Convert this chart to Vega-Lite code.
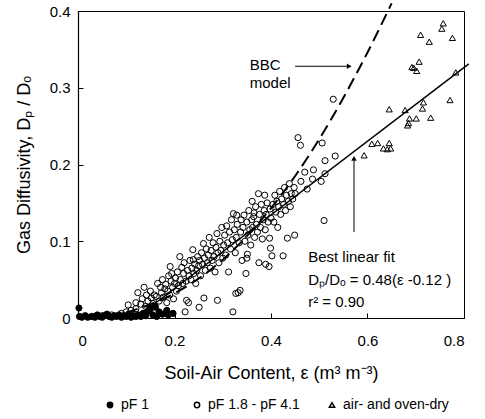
{
  "$schema": "https://vega.github.io/schema/vega-lite/v6.json",
  "autosize": "none",
  "width": 386,
  "height": 307,
  "padding": {"left": 78, "top": 11, "right": 21, "bottom": 101},
  "background": "white",
  "config": {
    "view": {"stroke": "black", "strokeWidth": 1},
    "font": "Liberation Sans",
    "axis": {"grid": false, "domainColor": "black", "tickColor": "black", "labelColor": "black", "titleColor": "black", "labelFont": "Liberation Sans", "titleFont": "Liberation Sans", "labelFontSize": 15, "titleFontSize": 18, "titleFontWeight": "normal", "tickSize": -5, "domainWidth": 1.2},
    "legend": {"labelFont": "Liberation Sans", "labelFontSize": 14, "labelColor": "black"}
  },
  "datasets": {
    "pts": [
      {"eps":0.002,"dp":0.013,"g":"pF 1"},{"eps":0.003,"dp":0.002,"g":"pF 1"},{"eps":0.008,"dp":0.001,"g":"pF 1"},{"eps":0.015,"dp":0.003,"g":"pF 1"},{"eps":0.02,"dp":0.001,"g":"pF 1"},{"eps":0.028,"dp":0.002,"g":"pF 1"},{"eps":0.035,"dp":0.001,"g":"pF 1"},{"eps":0.04,"dp":0.004,"g":"pF 1"},{"eps":0.045,"dp":0.002,"g":"pF 1"},{"eps":0.05,"dp":0.001,"g":"pF 1"},{"eps":0.055,"dp":0.003,"g":"pF 1"},{"eps":0.06,"dp":0.005,"g":"pF 1"},{"eps":0.065,"dp":0.002,"g":"pF 1"},{"eps":0.07,"dp":0.001,"g":"pF 1"},{"eps":0.075,"dp":0.003,"g":"pF 1"},{"eps":0.08,"dp":0.002,"g":"pF 1"},{"eps":0.085,"dp":0.004,"g":"pF 1"},{"eps":0.09,"dp":0.001,"g":"pF 1"},{"eps":0.095,"dp":0.003,"g":"pF 1"},{"eps":0.1,"dp":0.002,"g":"pF 1"},{"eps":0.105,"dp":0.005,"g":"pF 1"},{"eps":0.11,"dp":0.001,"g":"pF 1"},{"eps":0.115,"dp":0.003,"g":"pF 1"},{"eps":0.12,"dp":0.002,"g":"pF 1"},{"eps":0.125,"dp":0.004,"g":"pF 1"},{"eps":0.13,"dp":0.002,"g":"pF 1"},{"eps":0.135,"dp":0.006,"g":"pF 1"},{"eps":0.14,"dp":0.003,"g":"pF 1"},{"eps":0.145,"dp":0.009,"g":"pF 1"},{"eps":0.15,"dp":0.012,"g":"pF 1"},{"eps":0.155,"dp":0.004,"g":"pF 1"},{"eps":0.16,"dp":0.015,"g":"pF 1"},{"eps":0.163,"dp":0.002,"g":"pF 1"},{"eps":0.168,"dp":0.008,"g":"pF 1"},{"eps":0.175,"dp":0.005,"g":"pF 1"},{"eps":0.184,"dp":0.01,"g":"pF 1"},{"eps":0.187,"dp":0.004,"g":"pF 1"},{"eps":0.197,"dp":0.006,"g":"pF 1"},
      {"eps":0.03,"dp":0.002,"g":"pF 1.8 - pF 4.1"},{"eps":0.05,"dp":0.003,"g":"pF 1.8 - pF 4.1"},{"eps":0.07,"dp":0.004,"g":"pF 1.8 - pF 4.1"},{"eps":0.09,"dp":0.006,"g":"pF 1.8 - pF 4.1"},{"eps":0.1,"dp":0.008,"g":"pF 1.8 - pF 4.1"},{"eps":0.104,"dp":0.017,"g":"pF 1.8 - pF 4.1"},{"eps":0.11,"dp":0.01,"g":"pF 1.8 - pF 4.1"},{"eps":0.115,"dp":0.005,"g":"pF 1.8 - pF 4.1"},{"eps":0.12,"dp":0.012,"g":"pF 1.8 - pF 4.1"},{"eps":0.12,"dp":0.02,"g":"pF 1.8 - pF 4.1"},
      {"eps":0.124,"dp":0.033,"g":"pF 1.8 - pF 4.1"},{"eps":0.13,"dp":0.018,"g":"pF 1.8 - pF 4.1"},{"eps":0.133,"dp":0.025,"g":"pF 1.8 - pF 4.1"},{"eps":0.137,"dp":0.04,"g":"pF 1.8 - pF 4.1"},{"eps":0.14,"dp":0.015,"g":"pF 1.8 - pF 4.1"},{"eps":0.142,"dp":0.03,"g":"pF 1.8 - pF 4.1"},{"eps":0.145,"dp":0.022,"g":"pF 1.8 - pF 4.1"},{"eps":0.148,"dp":0.012,"g":"pF 1.8 - pF 4.1"},{"eps":0.15,"dp":0.035,"g":"pF 1.8 - pF 4.1"},{"eps":0.152,"dp":0.026,"g":"pF 1.8 - pF 4.1"},{"eps":0.155,"dp":0.019,"g":"pF 1.8 - pF 4.1"},{"eps":0.158,"dp":0.03,"g":"pF 1.8 - pF 4.1"},{"eps":0.16,"dp":0.014,"g":"pF 1.8 - pF 4.1"},
      {"eps":0.162,"dp":0.028,"g":"pF 1.8 - pF 4.1"},{"eps":0.165,"dp":0.045,"g":"pF 1.8 - pF 4.1"},{"eps":0.168,"dp":0.022,"g":"pF 1.8 - pF 4.1"},{"eps":0.171,"dp":0.04,"g":"pF 1.8 - pF 4.1"},{"eps":0.173,"dp":0.033,"g":"pF 1.8 - pF 4.1"},{"eps":0.175,"dp":0.05,"g":"pF 1.8 - pF 4.1"},{"eps":0.177,"dp":0.027,"g":"pF 1.8 - pF 4.1"},{"eps":0.18,"dp":0.038,"g":"pF 1.8 - pF 4.1"},{"eps":0.182,"dp":0.044,"g":"pF 1.8 - pF 4.1"},{"eps":0.184,"dp":0.02,"g":"pF 1.8 - pF 4.1"},{"eps":0.186,"dp":0.035,"g":"pF 1.8 - pF 4.1"},{"eps":0.188,"dp":0.055,"g":"pF 1.8 - pF 4.1"},{"eps":0.19,"dp":0.03,"g":"pF 1.8 - pF 4.1"},{"eps":0.191,"dp":0.067,"g":"pF 1.8 - pF 4.1"},{"eps":0.193,"dp":0.048,"g":"pF 1.8 - pF 4.1"},{"eps":0.194,"dp":0.058,"g":"pF 1.8 - pF 4.1"},{"eps":0.196,"dp":0.04,"g":"pF 1.8 - pF 4.1"},{"eps":0.198,"dp":0.025,"g":"pF 1.8 - pF 4.1"},{"eps":0.2,"dp":0.045,"g":"pF 1.8 - pF 4.1"},
      {"eps":0.202,"dp":0.052,"g":"pF 1.8 - pF 4.1"},{"eps":0.204,"dp":0.035,"g":"pF 1.8 - pF 4.1"},{"eps":0.206,"dp":0.06,"g":"pF 1.8 - pF 4.1"},{"eps":0.208,"dp":0.042,"g":"pF 1.8 - pF 4.1"},{"eps":0.211,"dp":0.08,"g":"pF 1.8 - pF 4.1"},{"eps":0.212,"dp":0.05,"g":"pF 1.8 - pF 4.1"},{"eps":0.215,"dp":0.066,"g":"pF 1.8 - pF 4.1"},{"eps":0.217,"dp":0.045,"g":"pF 1.8 - pF 4.1"},{"eps":0.219,"dp":0.058,"g":"pF 1.8 - pF 4.1"},{"eps":0.22,"dp":0.072,"g":"pF 1.8 - pF 4.1"},{"eps":0.222,"dp":0.008,"g":"pF 1.8 - pF 4.1"},{"eps":0.224,"dp":0.048,"g":"pF 1.8 - pF 4.1"},{"eps":0.225,"dp":0.023,"g":"pF 1.8 - pF 4.1"},{"eps":0.227,"dp":0.062,"g":"pF 1.8 - pF 4.1"},{"eps":0.229,"dp":0.02,"g":"pF 1.8 - pF 4.1"},{"eps":0.23,"dp":0.055,"g":"pF 1.8 - pF 4.1"},{"eps":0.232,"dp":0.075,"g":"pF 1.8 - pF 4.1"},{"eps":0.234,"dp":0.05,"g":"pF 1.8 - pF 4.1"},{"eps":0.236,"dp":0.065,"g":"pF 1.8 - pF 4.1"},{"eps":0.238,"dp":0.089,"g":"pF 1.8 - pF 4.1"},{"eps":0.239,"dp":0.076,"g":"pF 1.8 - pF 4.1"},{"eps":0.24,"dp":0.058,"g":"pF 1.8 - pF 4.1"},{"eps":0.242,"dp":0.07,"g":"pF 1.8 - pF 4.1"},{"eps":0.244,"dp":0.045,"g":"pF 1.8 - pF 4.1"},{"eps":0.246,"dp":0.062,"g":"pF 1.8 - pF 4.1"},{"eps":0.248,"dp":0.08,"g":"pF 1.8 - pF 4.1"},{"eps":0.25,"dp":0.068,"g":"pF 1.8 - pF 4.1"},{"eps":0.251,"dp":0.014,"g":"pF 1.8 - pF 4.1"},
      {"eps":0.252,"dp":0.075,"g":"pF 1.8 - pF 4.1"},{"eps":0.254,"dp":0.055,"g":"pF 1.8 - pF 4.1"},{"eps":0.256,"dp":0.085,"g":"pF 1.8 - pF 4.1"},{"eps":0.258,"dp":0.07,"g":"pF 1.8 - pF 4.1"},{"eps":0.26,"dp":0.097,"g":"pF 1.8 - pF 4.1"},{"eps":0.261,"dp":0.026,"g":"pF 1.8 - pF 4.1"},{"eps":0.262,"dp":0.078,"g":"pF 1.8 - pF 4.1"},{"eps":0.264,"dp":0.062,"g":"pF 1.8 - pF 4.1"},{"eps":0.266,"dp":0.09,"g":"pF 1.8 - pF 4.1"},{"eps":0.268,"dp":0.072,"g":"pF 1.8 - pF 4.1"},{"eps":0.27,"dp":0.082,"g":"pF 1.8 - pF 4.1"},{"eps":0.272,"dp":0.105,"g":"pF 1.8 - pF 4.1"},{"eps":0.274,"dp":0.065,"g":"pF 1.8 - pF 4.1"},{"eps":0.276,"dp":0.088,"g":"pF 1.8 - pF 4.1"},{"eps":0.278,"dp":0.075,"g":"pF 1.8 - pF 4.1"},{"eps":0.28,"dp":0.098,"g":"pF 1.8 - pF 4.1"},{"eps":0.282,"dp":0.08,"g":"pF 1.8 - pF 4.1"},{"eps":0.284,"dp":0.06,"g":"pF 1.8 - pF 4.1"},{"eps":0.286,"dp":0.092,"g":"pF 1.8 - pF 4.1"},{"eps":0.288,"dp":0.11,"g":"pF 1.8 - pF 4.1"},{"eps":0.289,"dp":0.023,"g":"pF 1.8 - pF 4.1"},{"eps":0.29,"dp":0.085,"g":"pF 1.8 - pF 4.1"},{"eps":0.292,"dp":0.072,"g":"pF 1.8 - pF 4.1"},{"eps":0.294,"dp":0.1,"g":"pF 1.8 - pF 4.1"},{"eps":0.296,"dp":0.088,"g":"pF 1.8 - pF 4.1"},{"eps":0.298,"dp":0.118,"g":"pF 1.8 - pF 4.1"},{"eps":0.3,"dp":0.078,"g":"pF 1.8 - pF 4.1"},
      {"eps":0.302,"dp":0.095,"g":"pF 1.8 - pF 4.1"},{"eps":0.304,"dp":0.108,"g":"pF 1.8 - pF 4.1"},{"eps":0.306,"dp":0.082,"g":"pF 1.8 - pF 4.1"},{"eps":0.308,"dp":0.12,"g":"pF 1.8 - pF 4.1"},{"eps":0.31,"dp":0.098,"g":"pF 1.8 - pF 4.1"},{"eps":0.312,"dp":0.06,"g":"pF 1.8 - pF 4.1"},{"eps":0.314,"dp":0.112,"g":"pF 1.8 - pF 4.1"},{"eps":0.316,"dp":0.09,"g":"pF 1.8 - pF 4.1"},{"eps":0.318,"dp":0.128,"g":"pF 1.8 - pF 4.1"},{"eps":0.32,"dp":0.102,"g":"pF 1.8 - pF 4.1"},{"eps":0.321,"dp":0.008,"g":"pF 1.8 - pF 4.1"},{"eps":0.322,"dp":0.136,"g":"pF 1.8 - pF 4.1"},{"eps":0.324,"dp":0.115,"g":"pF 1.8 - pF 4.1"},{"eps":0.326,"dp":0.085,"g":"pF 1.8 - pF 4.1"},{"eps":0.327,"dp":0.032,"g":"pF 1.8 - pF 4.1"},{"eps":0.328,"dp":0.105,"g":"pF 1.8 - pF 4.1"},{"eps":0.329,"dp":0.134,"g":"pF 1.8 - pF 4.1"},{"eps":0.33,"dp":0.122,"g":"pF 1.8 - pF 4.1"},{"eps":0.332,"dp":0.033,"g":"pF 1.8 - pF 4.1"},{"eps":0.334,"dp":0.098,"g":"pF 1.8 - pF 4.1"},{"eps":0.336,"dp":0.036,"g":"pF 1.8 - pF 4.1"},{"eps":0.337,"dp":0.112,"g":"pF 1.8 - pF 4.1"},{"eps":0.338,"dp":0.128,"g":"pF 1.8 - pF 4.1"},{"eps":0.34,"dp":0.075,"g":"pF 1.8 - pF 4.1"},{"eps":0.342,"dp":0.118,"g":"pF 1.8 - pF 4.1"},{"eps":0.344,"dp":0.134,"g":"pF 1.8 - pF 4.1"},{"eps":0.346,"dp":0.1,"g":"pF 1.8 - pF 4.1"},{"eps":0.348,"dp":0.058,"g":"pF 1.8 - pF 4.1"},{"eps":0.35,"dp":0.078,"g":"pF 1.8 - pF 4.1"},{"eps":0.351,"dp":0.083,"g":"pF 1.8 - pF 4.1"},{"eps":0.35,"dp":0.125,"g":"pF 1.8 - pF 4.1"},
      {"eps":0.352,"dp":0.108,"g":"pF 1.8 - pF 4.1"},{"eps":0.354,"dp":0.14,"g":"pF 1.8 - pF 4.1"},{"eps":0.356,"dp":0.115,"g":"pF 1.8 - pF 4.1"},{"eps":0.358,"dp":0.095,"g":"pF 1.8 - pF 4.1"},{"eps":0.36,"dp":0.128,"g":"pF 1.8 - pF 4.1"},{"eps":0.361,"dp":0.152,"g":"pF 1.8 - pF 4.1"},{"eps":0.362,"dp":0.118,"g":"pF 1.8 - pF 4.1"},{"eps":0.364,"dp":0.132,"g":"pF 1.8 - pF 4.1"},{"eps":0.365,"dp":0.137,"g":"pF 1.8 - pF 4.1"},{"eps":0.366,"dp":0.105,"g":"pF 1.8 - pF 4.1"},{"eps":0.368,"dp":0.145,"g":"pF 1.8 - pF 4.1"},{"eps":0.37,"dp":0.122,"g":"pF 1.8 - pF 4.1"},{"eps":0.372,"dp":0.112,"g":"pF 1.8 - pF 4.1"},{"eps":0.374,"dp":0.162,"g":"pF 1.8 - pF 4.1"},{"eps":0.375,"dp":0.072,"g":"pF 1.8 - pF 4.1"},{"eps":0.376,"dp":0.135,"g":"pF 1.8 - pF 4.1"},{"eps":0.378,"dp":0.118,"g":"pF 1.8 - pF 4.1"},{"eps":0.38,"dp":0.148,"g":"pF 1.8 - pF 4.1"},{"eps":0.382,"dp":0.103,"g":"pF 1.8 - pF 4.1"},{"eps":0.384,"dp":0.128,"g":"pF 1.8 - pF 4.1"},{"eps":0.386,"dp":0.14,"g":"pF 1.8 - pF 4.1"},{"eps":0.387,"dp":0.16,"g":"pF 1.8 - pF 4.1"},{"eps":0.388,"dp":0.115,"g":"pF 1.8 - pF 4.1"},{"eps":0.389,"dp":0.07,"g":"pF 1.8 - pF 4.1"},{"eps":0.39,"dp":0.135,"g":"pF 1.8 - pF 4.1"},{"eps":0.392,"dp":0.15,"g":"pF 1.8 - pF 4.1"},{"eps":0.394,"dp":0.125,"g":"pF 1.8 - pF 4.1"},{"eps":0.396,"dp":0.067,"g":"pF 1.8 - pF 4.1"},{"eps":0.397,"dp":0.104,"g":"pF 1.8 - pF 4.1"},{"eps":0.398,"dp":0.142,"g":"pF 1.8 - pF 4.1"},{"eps":0.399,"dp":0.091,"g":"pF 1.8 - pF 4.1"},{"eps":0.4,"dp":0.13,"g":"pF 1.8 - pF 4.1"},
      {"eps":0.402,"dp":0.081,"g":"pF 1.8 - pF 4.1"},{"eps":0.404,"dp":0.148,"g":"pF 1.8 - pF 4.1"},{"eps":0.406,"dp":0.125,"g":"pF 1.8 - pF 4.1"},{"eps":0.408,"dp":0.16,"g":"pF 1.8 - pF 4.1"},{"eps":0.41,"dp":0.138,"g":"pF 1.8 - pF 4.1"},{"eps":0.412,"dp":0.152,"g":"pF 1.8 - pF 4.1"},{"eps":0.414,"dp":0.118,"g":"pF 1.8 - pF 4.1"},{"eps":0.416,"dp":0.145,"g":"pF 1.8 - pF 4.1"},{"eps":0.418,"dp":0.165,"g":"pF 1.8 - pF 4.1"},{"eps":0.42,"dp":0.135,"g":"pF 1.8 - pF 4.1"},{"eps":0.422,"dp":0.155,"g":"pF 1.8 - pF 4.1"},{"eps":0.425,"dp":0.081,"g":"pF 1.8 - pF 4.1"},{"eps":0.426,"dp":0.148,"g":"pF 1.8 - pF 4.1"},{"eps":0.428,"dp":0.17,"g":"pF 1.8 - pF 4.1"},{"eps":0.43,"dp":0.14,"g":"pF 1.8 - pF 4.1"},{"eps":0.432,"dp":0.16,"g":"pF 1.8 - pF 4.1"},{"eps":0.434,"dp":0.104,"g":"pF 1.8 - pF 4.1"},{"eps":0.436,"dp":0.152,"g":"pF 1.8 - pF 4.1"},{"eps":0.438,"dp":0.175,"g":"pF 1.8 - pF 4.1"},{"eps":0.44,"dp":0.145,"g":"pF 1.8 - pF 4.1"},{"eps":0.442,"dp":0.162,"g":"pF 1.8 - pF 4.1"},{"eps":0.445,"dp":0.155,"g":"pF 1.8 - pF 4.1"},{"eps":0.448,"dp":0.17,"g":"pF 1.8 - pF 4.1"},{"eps":0.449,"dp":0.108,"g":"pF 1.8 - pF 4.1"},{"eps":0.45,"dp":0.162,"g":"pF 1.8 - pF 4.1"},
      {"eps":0.456,"dp":0.235,"g":"pF 1.8 - pF 4.1"},{"eps":0.461,"dp":0.225,"g":"pF 1.8 - pF 4.1"},{"eps":0.462,"dp":0.178,"g":"pF 1.8 - pF 4.1"},{"eps":0.47,"dp":0.19,"g":"pF 1.8 - pF 4.1"},{"eps":0.475,"dp":0.168,"g":"pF 1.8 - pF 4.1"},{"eps":0.486,"dp":0.181,"g":"pF 1.8 - pF 4.1"},{"eps":0.488,"dp":0.193,"g":"pF 1.8 - pF 4.1"},{"eps":0.504,"dp":0.178,"g":"pF 1.8 - pF 4.1"},{"eps":0.506,"dp":0.228,"g":"pF 1.8 - pF 4.1"},{"eps":0.51,"dp":0.127,"g":"pF 1.8 - pF 4.1"},{"eps":0.512,"dp":0.205,"g":"pF 1.8 - pF 4.1"},{"eps":0.512,"dp":0.188,"g":"pF 1.8 - pF 4.1"},{"eps":0.529,"dp":0.285,"g":"pF 1.8 - pF 4.1"},{"eps":0.533,"dp":0.211,"g":"pF 1.8 - pF 4.1"},
      {"eps":0.757,"dp":0.384,"g":"air- and oven-dry"},{"eps":0.754,"dp":0.377,"g":"air- and oven-dry"},{"eps":0.71,"dp":0.369,"g":"air- and oven-dry"},{"eps":0.728,"dp":0.36,"g":"air- and oven-dry"},{"eps":0.776,"dp":0.365,"g":"air- and oven-dry"},{"eps":0.707,"dp":0.334,"g":"air- and oven-dry"},{"eps":0.692,"dp":0.327,"g":"air- and oven-dry"},{"eps":0.696,"dp":0.326,"g":"air- and oven-dry"},{"eps":0.702,"dp":0.322,"g":"air- and oven-dry"},{"eps":0.783,"dp":0.32,"g":"air- and oven-dry"},{"eps":0.771,"dp":0.284,"g":"air- and oven-dry"},{"eps":0.716,"dp":0.281,"g":"air- and oven-dry"},{"eps":0.714,"dp":0.273,"g":"air- and oven-dry"},{"eps":0.731,"dp":0.261,"g":"air- and oven-dry"},{"eps":0.701,"dp":0.26,"g":"air- and oven-dry"},{"eps":0.687,"dp":0.26,"g":"air- and oven-dry"},{"eps":0.685,"dp":0.254,"g":"air- and oven-dry"},{"eps":0.683,"dp":0.251,"g":"air- and oven-dry"},{"eps":0.678,"dp":0.271,"g":"air- and oven-dry"},{"eps":0.645,"dp":0.272,"g":"air- and oven-dry"},{"eps":0.609,"dp":0.227,"g":"air- and oven-dry"},{"eps":0.621,"dp":0.228,"g":"air- and oven-dry"},{"eps":0.633,"dp":0.221,"g":"air- and oven-dry"},{"eps":0.641,"dp":0.22,"g":"air- and oven-dry"},{"eps":0.645,"dp":0.228,"g":"air- and oven-dry"},{"eps":0.648,"dp":0.221,"g":"air- and oven-dry"},{"eps":0.593,"dp":0.212,"g":"air- and oven-dry"}
    ],
    "fit": [{"eps":0.12,"dp":0.0},{"eps":0.81,"dp":0.331}],
    "bbc": [{"eps":0.1,"dp":0.007},{"eps":0.2,"dp":0.032},{"eps":0.3,"dp":0.076},{"eps":0.4,"dp":0.143},{"eps":0.45,"dp":0.185},{"eps":0.5,"dp":0.233},{"eps":0.55,"dp":0.287},{"eps":0.6,"dp":0.346},{"eps":0.65,"dp":0.41}],
    "arrows": [{"eps":0.45,"dp":0.328,"eps2":0.56,"dp2":0.328},{"eps":0.572,"dp":0.112,"eps2":0.572,"dp2":0.205}],
    "notes": [
      {"eps":0.356,"dp":0.330,"txt":"BBC"},
      {"eps":0.356,"dp":0.306,"txt":"model"},
      {"eps":0.477,"dp":0.0795,"txt":"Best linear fit"},
      {"eps":0.477,"dp":0.0495,"txt":"Dₚ/Dₒ = 0.48(ε -0.12 )"},
      {"eps":0.477,"dp":0.021,"txt":"r² = 0.90"}
    ]
  },
  "layer": [
    {
      "data": {"name": "pts"},
      "mark": {"type": "point", "filled": true, "stroke": "black", "strokeWidth": 1, "opacity": 1, "size": 38},
      "encoding": {
        "x": {"field": "eps", "type": "quantitative", "scale": {"domain": [0, 0.8], "nice": false}, "axis": {"values": [0, 0.2, 0.4, 0.6, 0.8], "labelExpr": "datum.value == 0 ? '0' : format(datum.value, '.1f')", "labelPadding": 20, "title": "Soil-Air Content, ε (m³ m⁻³)", "titlePadding": 16}},
        "y": {"field": "dp", "type": "quantitative", "scale": {"domain": [0, 0.4], "nice": false}, "axis": {"values": [0, 0.1, 0.2, 0.3, 0.4], "labelExpr": "datum.value == 0 ? '0' : format(datum.value, '.1f')", "labelPadding": 13, "title": "Gas Diffusivity, Dₚ / Dₒ", "titlePadding": 16}},
        "shape": {"field": "g", "type": "nominal", "scale": {"domain": ["pF 1", "pF 1.8 - pF 4.1", "air- and oven-dry"], "range": ["circle", "circle", "triangle-up"]}, "legend": {"orient": "none", "legendX": 25, "legendY": 387, "direction": "horizontal", "columns": 3, "title": null, "symbolSize": 28, "columnPadding": 25, "labelOffset": 4, "labelExpr": "datum.label == 'pF 1' ? 'pF 1\u00a0\u00a0\u00a0\u00a0\u200b' : datum.label", "encode": {"symbols": {"update": {"stroke": {"value": "black"}, "strokeWidth": {"value": 1}}}}}},
        "fill": {"field": "g", "type": "nominal", "scale": {"domain": ["pF 1", "pF 1.8 - pF 4.1", "air- and oven-dry"], "range": ["black", "transparent", "transparent"]}, "legend": {"orient": "none", "legendX": 25, "legendY": 387, "direction": "horizontal", "columns": 3, "title": null, "symbolSize": 28, "columnPadding": 25, "labelOffset": 4, "labelExpr": "datum.label == 'pF 1' ? 'pF 1\u00a0\u00a0\u00a0\u00a0\u200b' : datum.label", "encode": {"symbols": {"update": {"stroke": {"value": "black"}, "strokeWidth": {"value": 1}}}}}}
      }
    },
    {
      "data": {"name": "fit"},
      "mark": {"type": "line", "color": "black", "strokeWidth": 1.5},
      "encoding": {"x": {"field": "eps", "type": "quantitative"}, "y": {"field": "dp", "type": "quantitative"}}
    },
    {
      "data": {"name": "bbc"},
      "mark": {"type": "line", "color": "black", "strokeWidth": 2, "strokeDash": [12, 6], "interpolate": "monotone"},
      "encoding": {"x": {"field": "eps", "type": "quantitative"}, "y": {"field": "dp", "type": "quantitative"}}
    },
    {
      "data": {"name": "arrows"},
      "mark": {"type": "rule", "color": "black", "strokeWidth": 1},
      "encoding": {"x": {"field": "eps", "type": "quantitative"}, "y": {"field": "dp", "type": "quantitative"}, "x2": {"field": "eps2"}, "y2": {"field": "dp2"}}
    },
    {
      "data": {"values": [{"eps": 0.562, "dp": 0.328}]},
      "mark": {"type": "point", "shape": "triangle-right", "filled": true, "color": "black", "opacity": 1, "size": 30},
      "encoding": {"x": {"field": "eps", "type": "quantitative"}, "y": {"field": "dp", "type": "quantitative"}}
    },
    {
      "data": {"values": [{"eps": 0.572, "dp": 0.208}]},
      "mark": {"type": "point", "shape": "triangle-up", "filled": true, "color": "black", "opacity": 1, "size": 30},
      "encoding": {"x": {"field": "eps", "type": "quantitative"}, "y": {"field": "dp", "type": "quantitative"}}
    },
    {
      "data": {"name": "notes"},
      "mark": {"type": "text", "align": "left", "baseline": "middle", "fontSize": 15, "font": "Liberation Sans", "color": "black"},
      "encoding": {"x": {"field": "eps", "type": "quantitative"}, "y": {"field": "dp", "type": "quantitative"}, "text": {"field": "txt"}}
    }
  ]
}
